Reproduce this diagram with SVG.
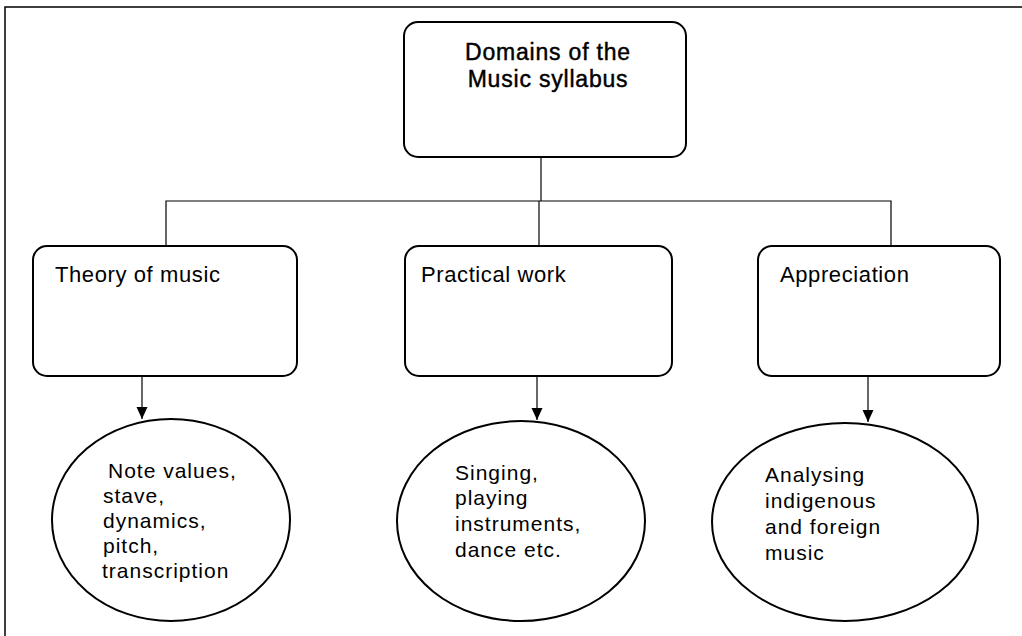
<svg xmlns="http://www.w3.org/2000/svg" width="1022" height="636" viewBox="0 0 1022 636">
  <style>
    .box { fill: #fff; stroke: #000; stroke-width: 2; }
    .oval { fill: #fff; stroke: #000; stroke-width: 2; }
    .wire { fill: none; stroke: #000; stroke-width: 1.2; }
    .frame { fill: none; stroke: #000; stroke-width: 1.5; }
    .title { font-family: "Liberation Sans", Arial, sans-serif; font-size: 23px; letter-spacing: 0.8px; fill: #000; stroke: #000; stroke-width: 0.45; text-anchor: middle; }
    .head { font-family: "Liberation Sans", Arial, sans-serif; font-size: 22px; letter-spacing: 0.6px; fill: #000; }
    .item { font-family: "Liberation Sans", Arial, sans-serif; font-size: 21px; letter-spacing: 1px; fill: #000; }
  </style>
  <defs>
    <marker id="arrow" viewBox="0 0 12 12" refX="12" refY="6" markerWidth="12" markerHeight="12" markerUnits="userSpaceOnUse" orient="auto">
      <path d="M0,0.5 L12,6 L0,11.5 Z" fill="#000"/>
    </marker>
  </defs>

  <rect width="1022" height="636" fill="#fff"/>

  <!-- page frame -->
  <path class="frame" d="M5,636 V7 H1022"/>

  <!-- connectors -->
  <g id="connectors">
    <path class="wire" d="M541,157 V201"/>
    <path class="wire" d="M166,246 V201 H891 V246"/>
    <path class="wire" d="M539,201 V246"/>
    <path class="wire" d="M142,376 V419" marker-end="url(#arrow)"/>
    <path class="wire" d="M537,376 V420" marker-end="url(#arrow)"/>
    <path class="wire" d="M868,376 V422" marker-end="url(#arrow)"/>
  </g>

  <!-- root -->
  <g id="domains">
    <rect class="box" x="404" y="22" width="282" height="135" rx="14"/>
    <text class="title" x="548" y="60">Domains of the</text>
    <text class="title" x="548" y="87">Music syllabus</text>
  </g>

  <!-- domain boxes -->
  <g id="theory">
    <rect class="box" x="33" y="246" width="264" height="130" rx="14"/>
    <text class="head" x="55" y="282">Theory of music</text>
  </g>
  <g id="practical">
    <rect class="box" x="405" y="246" width="267" height="130" rx="14"/>
    <text class="head" x="421" y="282">Practical work</text>
  </g>
  <g id="appreciation">
    <rect class="box" x="758" y="246" width="242" height="130" rx="14"/>
    <text class="head" x="780" y="282">Appreciation</text>
  </g>

  <!-- content ovals -->
  <g id="theory-topics">
    <ellipse class="oval" cx="171" cy="520" rx="119" ry="101"/>
    <text class="item" x="108" y="478">Note values,</text>
    <text class="item" x="103" y="503">stave,</text>
    <text class="item" x="103" y="528">dynamics,</text>
    <text class="item" x="103" y="553">pitch,</text>
    <text class="item" x="102" y="578">transcription</text>
  </g>
  <g id="practical-topics">
    <ellipse class="oval" cx="521" cy="521" rx="124" ry="100"/>
    <text class="item" x="455" y="480">Singing,</text>
    <text class="item" x="455" y="505">playing</text>
    <text class="item" x="455" y="531">instruments,</text>
    <text class="item" x="455" y="557">dance etc.</text>
  </g>
  <g id="appreciation-topics">
    <ellipse class="oval" cx="845" cy="522" rx="133" ry="99"/>
    <text class="item" x="765" y="482">Analysing</text>
    <text class="item" x="765" y="508">indigenous</text>
    <text class="item" x="765" y="534">and foreign</text>
    <text class="item" x="765" y="560">music</text>
  </g>
</svg>
